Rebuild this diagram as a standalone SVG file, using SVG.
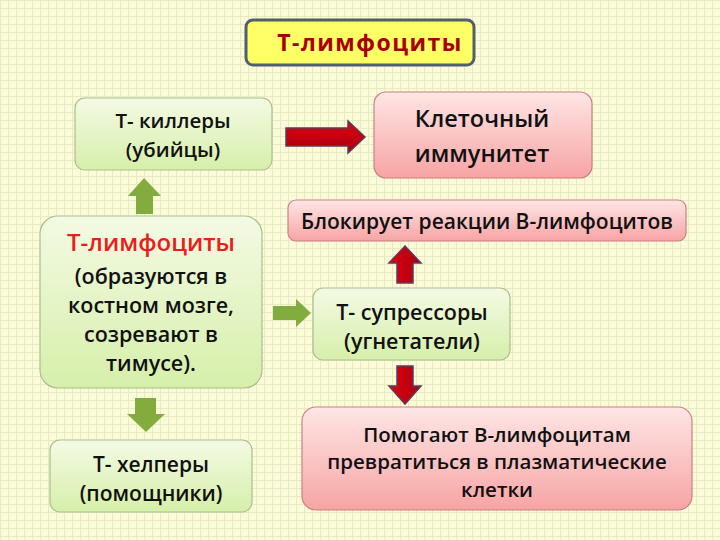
<svg xmlns="http://www.w3.org/2000/svg" width="720" height="540" viewBox="0 0 720 540">
<defs>
<pattern id="grid" width="8" height="8" patternUnits="userSpaceOnUse">
<rect width="8" height="8" fill="#fbfbd9"/>
<path d="M0 0.5H8M0.5 0V8" stroke="#e6ebc2" stroke-width="1"/>
</pattern>
<linearGradient id="gGreen" x1="0" y1="0" x2="0" y2="1">
<stop offset="0" stop-color="#f4fae4"/>
<stop offset="1" stop-color="#d6efaa"/>
</linearGradient>
<linearGradient id="gPink" x1="0" y1="0" x2="0" y2="1">
<stop offset="0" stop-color="#ffe6e6"/>
<stop offset="1" stop-color="#f7a4a4"/>
</linearGradient>
<linearGradient id="gRedH" x1="0" y1="0" x2="0" y2="1">
<stop offset="0" stop-color="#e00010"/>
<stop offset="1" stop-color="#a80010"/>
</linearGradient>
<linearGradient id="gRedV" x1="0" y1="0" x2="1" y2="0">
<stop offset="0" stop-color="#e00010"/>
<stop offset="1" stop-color="#a80010"/>
</linearGradient>
</defs>
<style>
.g{fill:url(#gGreen);stroke:#a9bf8c;stroke-width:1.2}
.p{fill:url(#gPink);stroke:#c98080;stroke-width:1.2}
.t{font-family:"Open Sans","Noto Sans",sans-serif;font-weight:600;fill:#111;text-anchor:middle}
.ga{fill:#82ad3e}
.ra{stroke:#5e3a5a;stroke-width:1.5;stroke-linejoin:miter}
</style>
<rect width="720" height="540" fill="url(#grid)"/>

<g id="title">
<rect x="246" y="20" width="228" height="45" rx="7" fill="#ffff66" stroke="#4f5f6b" stroke-width="3"/>
<text x="370" y="51" class="t" style="fill:#a80000;font-size:23px;font-weight:700;letter-spacing:1.5px">Т-лимфоциты</text>
</g>

<g id="killers">
<rect x="75" y="98" width="197" height="72" rx="10" class="g"/>
<text x="173" y="128" class="t" font-size="20.5">Т- киллеры</text>
<text x="173" y="157" class="t" font-size="20.5">(убийцы)</text>
</g>

<g id="cell-immunity">
<rect x="374" y="92" width="218" height="86" rx="12" class="p"/>
<text x="482" y="127" class="t" font-size="23.5">Клеточный</text>
<text x="482" y="162" class="t" font-size="23.5">иммунитет</text>
</g>

<g id="blocks">
<rect x="288" y="200" width="398" height="41" rx="8" class="p"/>
<text x="487" y="229" class="t" font-size="21">Блокирует реакции В-лимфоцитов</text>
</g>

<g id="t-lymph">
<rect x="40" y="216" width="222" height="172" rx="18" class="g"/>
<text x="151" y="251" class="t" style="fill:#e8201c;font-size:24px">Т-лимфоциты</text>
<text x="151" y="284" class="t" font-size="21.5">(образуются в</text>
<text x="151" y="313" class="t" font-size="21.5">костном мозге,</text>
<text x="151" y="342" class="t" font-size="21.5">созревают в</text>
<text x="151" y="371" class="t" font-size="21.5">тимусе).</text>
</g>

<g id="suppressors">
<rect x="313" y="288" width="197" height="72" rx="10" class="g"/>
<text x="412" y="320" class="t" font-size="21.5">Т- супрессоры</text>
<text x="412" y="349" class="t" font-size="21.5">(угнетатели)</text>
</g>

<g id="help-b">
<rect x="302" y="407" width="390" height="103" rx="14" class="p"/>
<text x="497" y="442" class="t" font-size="20.5">Помогают В-лимфоцитам</text>
<text x="497" y="469" class="t" font-size="20.5">превратиться в плазматические</text>
<text x="497" y="497" class="t" font-size="20.5">клетки</text>
</g>

<g id="helpers">
<rect x="50" y="440" width="202" height="72" rx="10" class="g"/>
<text x="151" y="472" class="t" font-size="21">Т- хелперы</text>
<text x="151" y="501" class="t" font-size="21">(помощники)</text>
</g>

<g id="connectors">
<path class="ra" fill="url(#gRedH)" d="M286 128H348V121L365 137L348 153V146H286Z"/>
<path class="ga" d="M144 178L161 196H153V214H136V196H128Z"/>
<path class="ga" d="M273 306H296V299L311 313L296 327V320H273Z"/>
<path class="ga" d="M135 398H156V414H165L146 432L127 414H135Z"/>
<path class="ra" fill="url(#gRedV)" d="M405 246L421 263H413V283H397V263H389Z"/>
<path class="ra" fill="url(#gRedV)" d="M397 366H413V386H421L405 404L389 386H397Z"/>
</g>
</svg>
